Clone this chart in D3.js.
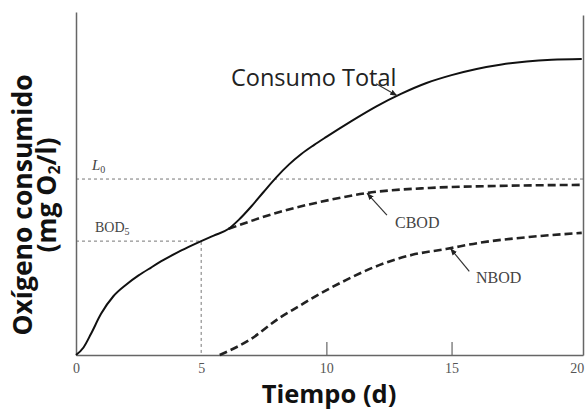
<!DOCTYPE html>
<html>
<head>
<meta charset="utf-8">
<script src="https://cdn.jsdelivr.net/npm/d3@7/dist/d3.min.js"></script>
<style>
  html, body { margin: 0; padding: 0; background: #fff; }
  svg { display: block; }
</style>
</head>
<body>
<svg id="chart" width="587" height="410"></svg>
<script>
// Oxygen consumed over time: total demand, carbonaceous (CBOD) and nitrogenous (NBOD) stages.
const tickDays = [0, 5, 10, 15, 20];

const totalDays = [0, 0.3, 0.6, 1.0, 1.5, 2.0, 2.5, 3.0, 3.5, 4.0, 4.5, 5.0, 5.5, 6.1, 6.5, 7.0, 7.5, 8.0, 8.5, 9.0, 9.5, 10, 11, 12, 13, 14, 15, 16, 17, 18, 19, 20.2];
const totalO2   = [0, 0.22, 0.62, 1.2, 1.72, 2.05, 2.32, 2.55, 2.77, 2.97, 3.15, 3.32, 3.48, 3.68, 3.94, 4.33, 4.76, 5.18, 5.55, 5.86, 6.12, 6.36, 6.82, 7.25, 7.62, 7.93, 8.16, 8.34, 8.47, 8.56, 8.61, 8.63];

const cbodDays = [6.1, 8.13, 10.12, 11.59, 14.1, 16.9, 20.2];
const cbodO2   = [3.68, 4.17, 4.52, 4.72, 4.87, 4.93, 4.96];

const nbodDays = [5.74, 6.93, 8.13, 8.92, 9.44, 10.8, 12.11, 13.43, 14.78, 16.1, 18.09, 20.2];
const nbodO2   = [0, 0.44, 1.08, 1.43, 1.66, 2.19, 2.62, 2.92, 3.09, 3.27, 3.44, 3.56];

const ultimateBOD = 5.13;   // L0
const bod5Day = 5;
const bod5Value = 3.32;     // BOD5

const svg = d3.select("#chart");
const x = d3.scaleLinear().domain([0, 20.25]).range([76, 583]);
const y = d3.scaleLinear().domain([0, 10]).range([355, 12]);

const zip = (a, b) => a.map((d, i) => [d, b[i]]);
const line = d3.line().x(d => x(d[0])).y(d => y(d[1])).curve(d3.curveMonotoneX);

// arrowhead
svg.append("defs").append("marker")
  .attr("id", "head")
  .attr("viewBox", "0 -4 8 8")
  .attr("refX", 8).attr("refY", 0)
  .attr("markerWidth", 7).attr("markerHeight", 7)
  .attr("markerUnits", "userSpaceOnUse")
  .attr("orient", "auto")
  .append("path").attr("d", "M0,-3.2L8,0L0,3.2Z").attr("fill", "#222");

// reference lines for L0 and BOD5
const refStyle = g => g.attr("stroke", "#777").attr("stroke-width", 1).attr("stroke-dasharray", "3,3").attr("fill", "none");
svg.append("line").call(refStyle)
  .attr("x1", x(0)).attr("x2", x(20.25)).attr("y1", y(ultimateBOD)).attr("y2", y(ultimateBOD));
svg.append("path").call(refStyle)
  .attr("d", `M${x(0)},${y(bod5Value)}H${x(bod5Day)}V${y(0)}`);

// axes
const axisColor = "#666";
const bottom = svg.append("g")
  .attr("transform", `translate(0,${y(0)})`)
  .call(d3.axisBottom(x).tickValues(tickDays).tickSizeInner(-13).tickSizeOuter(0).tickPadding(8).tickFormat(d3.format("d")));
bottom.select(".domain").attr("stroke", axisColor).attr("stroke-width", 1.5);
bottom.selectAll(".tick line")
  .attr("stroke", axisColor).attr("stroke-width", 1.2)
  .attr("opacity", d => (d === 10 || d === 15) ? 1 : 0);
bottom.selectAll(".tick text")
  .attr("font-family", "'Liberation Serif', 'Times New Roman', serif")
  .attr("font-size", 14).attr("fill", "#555");

const left = svg.append("g")
  .attr("transform", `translate(${x(0)},0)`)
  .call(d3.axisLeft(y).tickValues([]).tickSizeOuter(0));
left.select(".domain").attr("stroke", axisColor).attr("stroke-width", 1.5);

const right = svg.append("g")
  .attr("transform", `translate(${x(20.25)},0)`)
  .call(d3.axisRight(y.copy().domain([0, 9.9]).range([355, 15])).tickValues([]).tickSizeOuter(0));
right.select(".domain").attr("stroke", axisColor).attr("stroke-width", 1.5);

// curves
svg.append("path").datum(zip(cbodDays, cbodO2))
  .attr("d", line).attr("fill", "none").attr("stroke", "#222")
  .attr("stroke-width", 2.6).attr("stroke-dasharray", "8,4");
svg.append("path").datum(zip(nbodDays, nbodO2))
  .attr("d", line).attr("fill", "none").attr("stroke", "#222")
  .attr("stroke-width", 2.6).attr("stroke-dasharray", "8,4");
svg.append("path").datum(zip(totalDays, totalO2))
  .attr("d", line).attr("fill", "none").attr("stroke", "#111")
  .attr("stroke-width", 2);

// callout arrows: tip on the curve, tail offset in pixels
function arrow(t, v, dx, dy) {
  svg.append("line")
    .attr("x1", x(t) + dx).attr("y1", y(v) + dy)
    .attr("x2", x(t)).attr("y2", y(v))
    .attr("stroke", "#333").attr("stroke-width", 1.2)
    .attr("marker-end", "url(#head)");
}
arrow(12.83, 7.56, -21, -12);
arrow(11.62, 4.72, 20, 22);
arrow(14.95, 3.11, 19, 23);

// annotation text
const serif = "'Liberation Serif', 'Times New Roman', serif";
svg.append("text").attr("x", 231).attr("y", 86)
  .attr("font-family", "'Open Sans', sans-serif").attr("font-size", 23.5).attr("fill", "#222")
  .text("Consumo Total");

svg.append("text").attr("x", 395).attr("y", 228)
  .attr("font-family", serif).attr("font-size", 16).attr("fill", "#444")
  .text("CBOD");
svg.append("text").attr("x", 476).attr("y", 283)
  .attr("font-family", serif).attr("font-size", 16).attr("fill", "#444")
  .text("NBOD");

const l0 = svg.append("text").attr("x", 92).attr("y", 170)
  .attr("font-family", serif).attr("font-size", 15).attr("fill", "#444");
l0.append("tspan").attr("font-style", "italic").text("L");
l0.append("tspan").attr("font-size", 10).attr("dy", 3).text("0");

const b5 = svg.append("text").attr("x", 95).attr("y", 232)
  .attr("font-family", serif).attr("font-size", 14).attr("fill", "#444");
b5.append("tspan").text("BOD");
b5.append("tspan").attr("font-size", 10).attr("dy", 3).text("5");

// axis titles
const sans = "'Open Sans', sans-serif";
svg.append("text").attr("x", 329).attr("y", 403)
  .attr("text-anchor", "middle").attr("font-family", sans).attr("font-weight", "bold")
  .attr("font-size", 25.5).attr("fill", "#111").text("Tiempo (d)");

svg.append("text").attr("transform", "translate(32,205) rotate(-90)")
  .attr("text-anchor", "middle").attr("font-family", sans).attr("font-weight", "bold")
  .attr("font-size", 26.5).attr("fill", "#111").text("Oxígeno consumido");

const yl2 = svg.append("text").attr("transform", "translate(56,195) rotate(-90)")
  .attr("text-anchor", "middle").attr("font-family", sans).attr("font-weight", "bold")
  .attr("font-size", 26.5).attr("fill", "#111");
yl2.append("tspan").text("(mg O");
yl2.append("tspan").attr("font-size", 16).attr("dy", 4).text("2");
yl2.append("tspan").attr("dy", -4).text("/l)");
</script>
</body>
</html>
